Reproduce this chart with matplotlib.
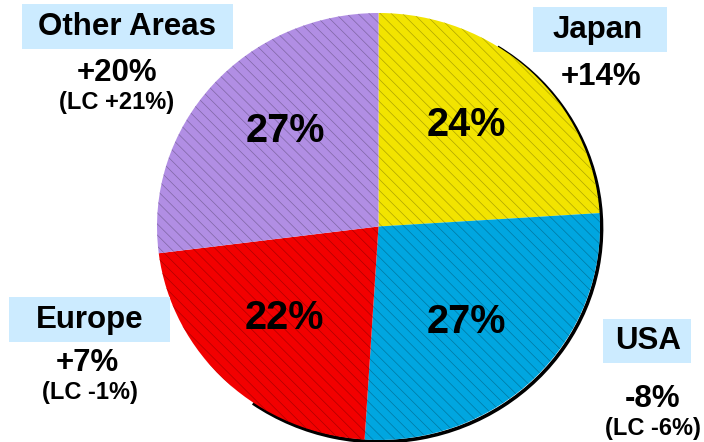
import matplotlib
matplotlib.use("Agg")
import matplotlib.pyplot as plt
from matplotlib.patches import Rectangle, Arc
import matplotlib.colors as mcolors

plt.rcParams["font.family"] = ["Liberation Sans", "DejaVu Sans"]
plt.rcParams["hatch.linewidth"] = 0.5

# Regional share of sales and year-on-year growth
regions = ["Japan", "USA", "Europe", "Other Areas"]
shares = [24, 27, 22, 27]
growth = ["+14%", "-8%", "+7%", "+20%"]
growth_lc = ["", "(LC -6%)", "(LC -1%)", "(LC +21%)"]
colors = ["#F2E400", "#00A6E0", "#F20000", "#B18EE4"]

W, H = 704, 442
fig = plt.figure(figsize=(W / 100, H / 100), dpi=100)


def fx(x, y):
    return (x / W, 1 - y / H)


# pie occupies a slightly wide ellipse
ax = fig.add_axes([157 / W, 2 / H, 443 / W, 427 / H])
wedges, _ = ax.pie(shares, colors=colors, startangle=90, counterclock=False,
                   radius=1.0, wedgeprops=dict(linewidth=0))
for w, c in zip(wedges, colors):
    rgb = mcolors.to_rgb(c)
    w.set_edgecolor(tuple(v * 0.72 for v in rgb))
    w.set_linewidth(0)
    w.set_hatch("\\\\\\")
    w.set_zorder(1)
ax.set_xlim(-1, 1)
ax.set_ylim(-1, 1)
ax.set_aspect("auto")
ax.axis("off")

# dark rim along the lower-right edge
rim = Arc((0.007, -0.008), 2.0, 2.0, theta1=-125, theta2=58, color="black",
          linewidth=2.6, clip_on=False, zorder=0.5)
ax.add_patch(rim)

# share labels inside the wedges
share_pos = [(466, 125), (466, 322), (284, 318), (285, 131)]
for s, (x, y) in zip(shares, share_pos):
    fig.text(*fx(x, y), f"{s}%", ha="center", va="center",
             fontsize=28.5, fontweight="bold", color="black")

# region name boxes and growth figures
boxes = {
    "Japan": (533, 7, 667, 52),
    "USA": (603, 319, 691, 363),
    "Europe": (9, 297, 170, 342),
    "Other Areas": (22, 4, 233, 49),
}
name_pos = {"Japan": (598, 30), "USA": (648, 341), "Europe": (90, 320),
            "Other Areas": (127, 27)}
growth_pos = {"Japan": (601, 77), "USA": (653, 399), "Europe": (87, 363),
              "Other Areas": (117, 73)}
lc_pos = {"USA": (653, 429), "Europe": (90, 392), "Other Areas": (117, 102)}

for name, g, lc in zip(regions, growth, growth_lc):
    x0, y0, x1, y1 = boxes[name]
    fig.patches.append(Rectangle(fx(x0, y1), (x1 - x0) / W, (y1 - y0) / H,
                                 transform=fig.transFigure, facecolor="#CCEBFF",
                                 edgecolor="none", zorder=0))
    fig.text(*fx(*name_pos[name]), name, ha="center", va="center",
             fontsize=22.5, fontweight="bold")
    fig.text(*fx(*growth_pos[name]), g, ha="center", va="center",
             fontsize=22.5, fontweight="bold")
    if lc:
        fig.text(*fx(*lc_pos[name]), lc, ha="center", va="center",
                 fontsize=17, fontweight="bold")

fig.savefig("out.png", dpi=100)
